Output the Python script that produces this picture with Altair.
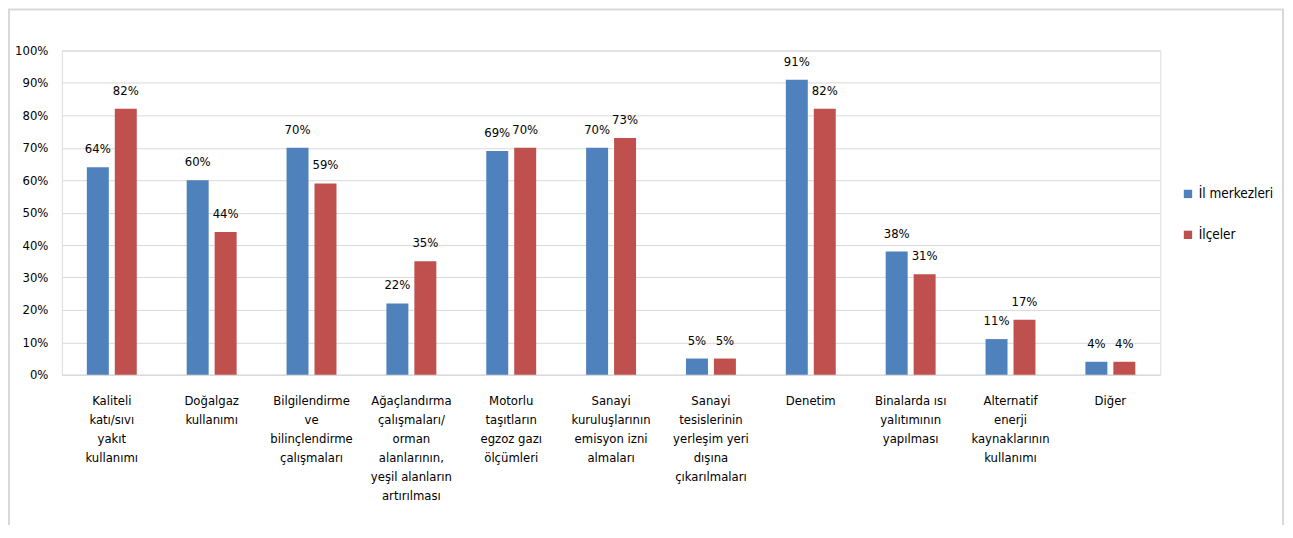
import altair as alt
import pandas as pd

categories = [
    "Kaliteli|katı/sıvı|yakıt|kullanımı",
    "Doğalgaz|kullanımı",
    "Bilgilendirme|ve|bilinçlendirme|çalışmaları",
    "Ağaçlandırma|çalışmaları/|orman|alanlarının,|yeşil alanların|artırılması",
    "Motorlu|taşıtların|egzoz gazı|ölçümleri",
    "Sanayi|kuruluşlarının|emisyon izni|almaları",
    "Sanayi|tesislerinin|yerleşim yeri|dışına|çıkarılmaları",
    "Denetim",
    "Binalarda ısı|yalıtımının|yapılması",
    "Alternatif|enerji|kaynaklarının|kullanımı",
    "Diğer",
]
series = ["İl merkezleri", "İlçeler"]
il_merkezleri = [0.64, 0.60, 0.70, 0.22, 0.69, 0.70, 0.05, 0.91, 0.38, 0.11, 0.04]
ilceler = [0.82, 0.44, 0.59, 0.35, 0.70, 0.73, 0.05, 0.82, 0.31, 0.17, 0.04]
colors = ["#4F81BD", "#C0504D"]

rows = []
for c, a, b in zip(categories, il_merkezleri, ilceler):
    rows.append({"cat": c, "series": series[0], "value": a})
    rows.append({"cat": c, "series": series[1], "value": b})
df = pd.DataFrame(rows)

FONT = "DejaVu Sans Condensed, Liberation Sans Narrow, Roboto, sans-serif"

x = alt.X("cat:N", sort=categories, title=None,
          scale=alt.Scale(paddingInner=0.5, paddingOuter=0.25),
          axis=alt.Axis(labelExpr="split(datum.value, '|')", labelAngle=0,
                        labelAlign="center", labelBaseline="top",
                        labelLineHeight=19, labelFontSize=13, labelFont=FONT,
                        labelColor="#000000", labelPadding=20, labelLimit=200,
                        ticks=False, domain=True, domainColor="#D9D9D9",
                        grid=False))
xo = alt.XOffset("series:N", sort=series,
                 scale=alt.Scale(paddingInner=0.214, paddingOuter=0))
y = alt.Y("value:Q", title=None,
          scale=alt.Scale(domain=[0, 1]),
          axis=alt.Axis(format="%", values=[i / 10 for i in range(11)],
                        labelFontSize=13, labelFont=FONT, labelColor="#000000",
                        labelPadding=14, ticks=False, domain=False,
                        gridColor="#D9D9D9", gridWidth=1))
color = alt.Color("series:N", sort=series,
                  scale=alt.Scale(domain=series, range=colors),
                  legend=alt.Legend(title=None, orient="none", legendX=1122,
                                    legendY=137, symbolType="square",
                                    symbolSize=70, symbolStrokeWidth=0,
                                    labelFontSize=13.5, labelFont=FONT,
                                    labelColor="#000000", rowPadding=26,
                                    labelOffset=4))

frame = alt.Chart(pd.DataFrame({"f": [0]})).mark_rect(
    fill=None, stroke="#D9D9D9", strokeWidth=2
).encode(x=alt.value(-53), x2=alt.value(1224),
         y=alt.value(-41), y2=alt.value(500))

base = alt.Chart(df).encode(x=x, xOffset=xo, y=y)
bars = base.mark_bar(stroke=None).encode(color=color)
labels = base.mark_text(baseline="alphabetic", dy=-14, fontSize=13,
                        font=FONT, color="#000000").encode(
    text=alt.Text("value:Q", format=".0%"))

chart = (frame + bars + labels).properties(
    width=1101, height=325,
    autosize=alt.AutoSizeParams(type="none"),
    padding={"left": 54, "top": 42, "right": 125, "bottom": 150},
).configure_view(stroke=None).configure(background="white")

chart.save("out.html", embed_options={"renderer": "svg", "actions": False})
